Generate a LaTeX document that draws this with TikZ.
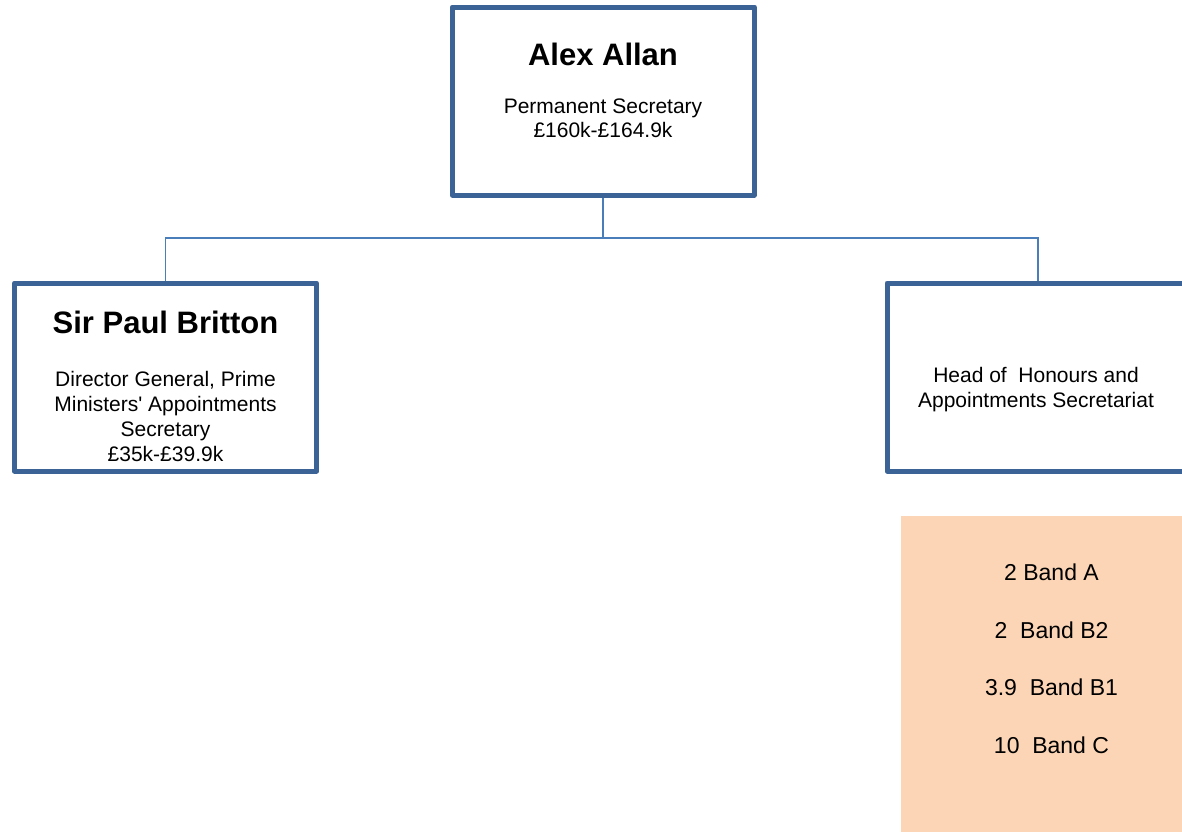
\documentclass[tikz,border=0pt]{standalone}
\usepackage{fontspec}
\setmainfont{Liberation Sans}
\definecolor{boxblue}{HTML}{3B6396}
\definecolor{linkblue}{HTML}{4A7EBB}
\definecolor{peach}{HTML}{FBD5B5}
\begin{document}
\begin{tikzpicture}[x=1pt,y=-1pt,
  postbox/.style={draw=boxblue,line width=5pt,line join=round,fill=white,
    minimum width=302pt,minimum height=188pt,inner sep=0pt},
  link/.style={draw=linkblue,line width=1.8pt},
  holder/.style={font=\fontsize{31}{36}\selectfont\bfseries,anchor=base,inner sep=0pt},
  info/.style={font=\fontsize{21}{25}\selectfont,anchor=base,inner sep=0pt},
  bandtext/.style={font=\fontsize{23}{27}\selectfont,anchor=base,inner sep=0pt}]
\useasboundingbox (0,0) rectangle (1182,831);
\clip (0,0) rectangle (1182,831);

% staff counts panel
\fill[peach] (901,516) rectangle (1195,845);
\node[bandtext] (bA)  at (1051.5,580.5) {2 Band A};
\node[bandtext] (bB2) at (1051.5,638) {2\ \ Band B2};
\node[bandtext] (bB1) at (1051.5,695) {3.9\ \ Band B1};
\node[bandtext] (bC)  at (1051.5,753) {10\ \ Band C};

% posts
\node[postbox] (perm) at (603.25,101) {};
\node[postbox] (dg)   at (165.5,377) {};
\node[postbox] (head) at (1038,377) {};

% reporting lines
\coordinate (bus) at (603.25,238);
\draw[link] (perm.south) -- (bus);
\draw[link] (bus) -| (dg.north);
\draw[link] (bus) -| (head.north);

% post texts
\node[holder] (permname) at (603,65) {Alex Allan};
\node[info] (permrole) at (603,113.5) {Permanent Secretary};
\node[info] (permpay)  at (603,137) {£160k-£164.9k};

\node[holder] (dgname) at (165.5,333) {Sir Paul Britton};
\node[info] (dg1) at (165.5,386.5) {Director General, Prime};
\node[info] (dg2) at (165.5,411) {Ministers\textquotesingle\ Appointments};
\node[info] (dg3) at (165.5,436) {Secretary};
\node[info] (dg4) at (165.5,461.5) {£35k-£39.9k};

\node[info] (head1) at (1036,382) {Head of\ \ Honours and};
\node[info] (head2) at (1036,407.5) {Appointments Secretariat};
\end{tikzpicture}
\end{document}
